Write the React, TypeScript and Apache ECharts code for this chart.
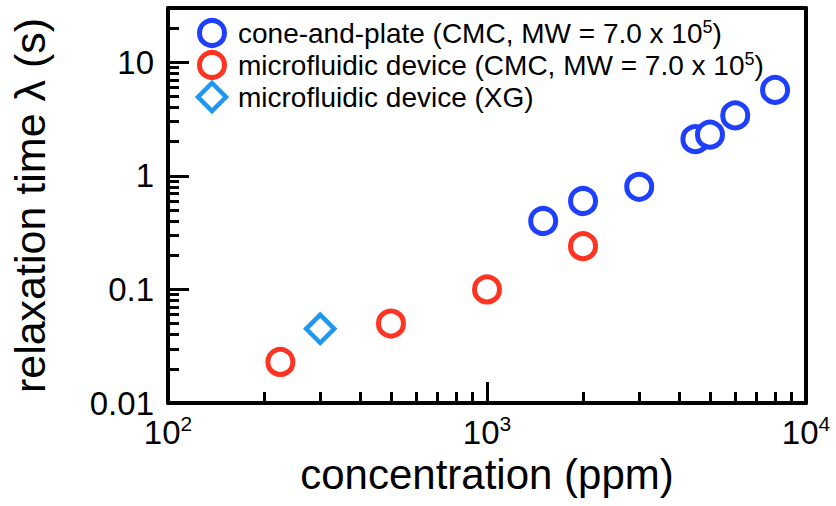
import React, { useEffect, useRef } from 'react';
import * as echarts from 'echarts';

// ---- data ----
const coneConc = [1500, 2000, 3000, 4500, 5000, 6000, 8000];
const coneLambda = [0.4, 0.6, 0.8, 2.1, 2.3, 3.4, 5.7];
const microCmcConc = [225, 500, 1000, 2000];
const microCmcLambda = [0.023, 0.05, 0.1, 0.24];
const microXgConc = [300];
const microXgLambda = [0.045];

const seriesNames = [
  'cone-and-plate (CMC, MW = 7.0 x 10^5)',
  'microfluidic device (CMC, MW = 7.0 x 10^5)',
  'microfluidic device (XG)',
];

// ---- axes ----
const xMin = 100;
const xMax = 10000;
const yMin = 0.01;
const yMax = 30;
const xTickValues = [100, 1000, 10000];
const xTickExps = ['2', '3', '4'];
const yTickValues = [0.01, 0.1, 1, 10];
const yTickLabels = ['0.01', '0.1', '1', '10'];
const xMinorTicks = [200, 300, 400, 500, 600, 700, 800, 900, 2000, 3000, 4000, 5000, 6000, 7000, 8000, 9000];
const yMinorTicks = [
  0.02, 0.03, 0.04, 0.05, 0.06, 0.07, 0.08, 0.09,
  0.2, 0.3, 0.4, 0.5, 0.6, 0.7, 0.8, 0.9,
  2, 3, 4, 5, 6, 7, 8, 9,
  20,
];

const FONT = '"Liberation Sans", Arial, Helvetica, sans-serif';
const BLUE = '#1f3fff';
const RED = '#ff3322';
const LIGHTBLUE = '#1e98f2';

const matchIndex = (ticks: number[], v: number) =>
  ticks.findIndex((t) => Math.abs(Math.log10(t) - Math.log10(v)) < 1e-6);

const supText = (name: string) => name.replace(/\^(\d+)/, '{sup|$1}');

export default function App() {
  const ref = useRef<HTMLDivElement>(null);

  useEffect(() => {
    if (!ref.current) return;
    const chart = echarts.init(ref.current, undefined, { renderer: 'svg' });

    const frameAxisCommon = {
      type: 'log',
      logBase: 10,
      axisLine: { show: true, onZero: false, lineStyle: { color: '#000', width: 4 } },
      axisTick: { show: false },
      splitLine: { show: false },
    };

    // helper axes that only carry tick marks: moved inside the frame by `offset`,
    // with outward ticks that reach back to the frame line
    const tickAxis = (pos: string, min: number, max: number, values: number[], len: number) => ({
      type: 'log',
      logBase: 10,
      position: pos,
      offset: -len,
      min,
      max,
      axisLine: { show: false },
      axisLabel: { show: false },
      splitLine: { show: false },
      axisTick: {
        show: true,
        inside: false,
        length: len,
        customValues: values,
        lineStyle: { color: '#000', width: 3 },
      },
    });

    const legendRich = {
      sup: { fontFamily: FONT, fontSize: 18, verticalAlign: 'top', lineHeight: 18, fill: '#000' },
    };
    const legendText = (name: string, y: number) => ({
      type: 'text',
      x: 238,
      y,
      silent: true,
      style: {
        text: supText(name),
        fontFamily: FONT,
        fontSize: 28,
        lineHeight: 30,
        fill: '#000',
        verticalAlign: 'middle',
        align: 'left',
        rich: legendRich,
      },
    });

    const legendGraphics: any[] = [
      {
        type: 'circle',
        silent: true,
        shape: { cx: 212, cy: 33, r: 12.5 },
        style: { fill: '#fff', stroke: BLUE, lineWidth: 5 },
      },
      {
        type: 'circle',
        silent: true,
        shape: { cx: 212, cy: 65, r: 12.5 },
        style: { fill: '#fff', stroke: RED, lineWidth: 5 },
      },
      {
        type: 'polygon',
        silent: true,
        shape: { points: [[212, 83], [226, 97], [212, 111], [198, 97]] },
        style: { fill: '#fff', stroke: LIGHTBLUE, lineWidth: 4.5 },
      },
      legendText(seriesNames[0], 33),
      legendText(seriesNames[1], 65),
      legendText(seriesNames[2], 97),
    ];

    const option: any = {
      animation: false,
      grid: {
        left: 167,
        right: 30,
        top: 8,
        bottom: 103,
        show: false,
      },
      graphic: legendGraphics,
      xAxis: [
        {
          ...frameAxisCommon,
          position: 'bottom',
          min: xMin,
          max: xMax,
          name: 'concentration (ppm)',
          nameLocation: 'middle',
          nameGap: 48,
          nameTextStyle: { fontFamily: FONT, fontSize: 42, color: '#000' },
          axisLabel: {
            margin: 10,
            formatter: (v: number) => {
              const i = matchIndex(xTickValues, v);
              return i >= 0 ? `{b|10}{sup|${xTickExps[i]}}` : '';
            },
            rich: {
              b: { fontFamily: FONT, fontSize: 33, color: '#000', lineHeight: 36, verticalAlign: 'bottom' },
              sup: { fontFamily: FONT, fontSize: 21, color: '#000', lineHeight: 21, verticalAlign: 'top' },
            },
          },
        },
        {
          ...frameAxisCommon,
          position: 'top',
          min: xMin,
          max: xMax,
          axisLabel: { show: false },
        },
        tickAxis('bottom', xMin, xMax, xTickValues, 21),
        tickAxis('bottom', xMin, xMax, xMinorTicks, 11),
      ],
      yAxis: [
        {
          ...frameAxisCommon,
          position: 'left',
          min: yMin,
          max: yMax,
          name: 'relaxation time λ (s)',
          nameLocation: 'middle',
          nameGap: 117,
          nameTextStyle: { fontFamily: FONT, fontSize: 43, color: '#000' },
          axisLabel: {
            margin: 14,
            fontFamily: FONT,
            fontSize: 33,
            color: '#000',
            formatter: (v: number) => {
              const i = matchIndex(yTickValues, v);
              return i >= 0 ? yTickLabels[i] : '';
            },
          },
        },
        {
          ...frameAxisCommon,
          position: 'right',
          min: yMin,
          max: yMax,
          axisLabel: { show: false },
        },
        tickAxis('left', yMin, yMax, yTickValues, 21),
        tickAxis('left', yMin, yMax, yMinorTicks, 11),
      ],
      series: [
        {
          name: seriesNames[0],
          type: 'scatter',
          z: 3,
          symbol: 'circle',
          symbolSize: 25,
          itemStyle: { color: '#fff', borderColor: BLUE, borderWidth: 5, opacity: 1 },
          data: coneConc.map((c, i) => [c, coneLambda[i]]),
        },
        {
          name: seriesNames[1],
          type: 'scatter',
          z: 3,
          symbol: 'circle',
          symbolSize: 25,
          itemStyle: { color: '#fff', borderColor: RED, borderWidth: 5, opacity: 1 },
          data: microCmcConc.map((c, i) => [c, microCmcLambda[i]]),
        },
        {
          name: seriesNames[2],
          type: 'scatter',
          z: 3,
          symbol: 'diamond',
          symbolSize: 28,
          itemStyle: { color: '#fff', borderColor: LIGHTBLUE, borderWidth: 4.5, opacity: 1 },
          data: microXgConc.map((c, i) => [c, microXgLambda[i]]),
        },
      ],
    };

    chart.setOption(option);
    return () => chart.dispose();
  }, []);

  return (
    <div
      ref={ref}
      style={{ position: 'absolute', left: 0, top: 0, width: 836, height: 506, background: '#fff' }}
    />
  );
}
